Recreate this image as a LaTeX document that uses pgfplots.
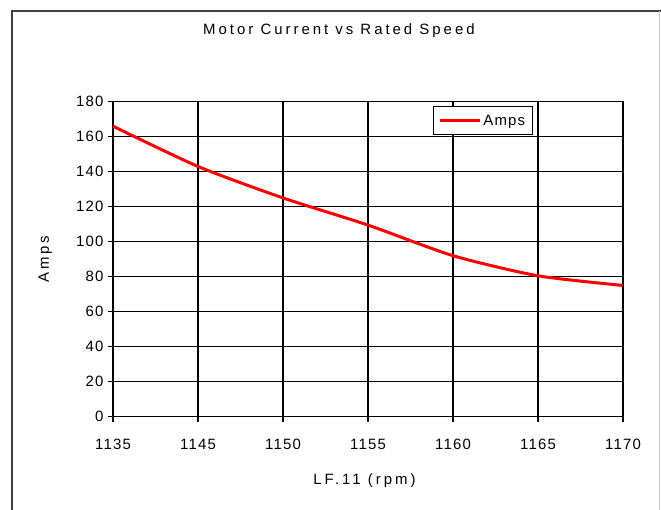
\documentclass[border=0pt]{standalone}
\usepackage{pgfplots}
\pgfplotsset{compat=1.18}
\usepackage{fontspec}
\setmainfont{Liberation Sans}
\newfontfamily\spaced[LetterSpace=20]{Liberation Sans}
\newfontfamily\lspaced[LetterSpace=8]{Liberation Sans}

\begin{document}
\begin{tikzpicture}[x=1bp,y=1bp]
\useasboundingbox (0,0) rectangle (661,510);
\draw[line width=2bp, black!75] (12,0) -- (12,499) -- (661,499);
\draw[line width=1bp, black!20] (659.5,0) -- (659.5,499);
\begin{axis}[
    at={(113bp,93.3bp)}, anchor=south west,
    width=510bp, height=315bp, scale only axis,
    xmin=0, xmax=6, ymin=0, ymax=180,
    xtick={0,...,6},
    xticklabels={1135,1145,1150,1155,1160,1165,1170},
    ytick={0,20,...,180},
    xtick pos=left, ytick pos=left,
    tick align=outside, major tick length=5bp,
    grid=major,
    major grid style={black, line width=1.3bp},
    axis line style={black, line width=1.3bp},
    tick style={black, line width=1.3bp},
    /pgf/number format/assume math mode=true,
    ticklabel style={font=\lspaced\fontsize{15}{15}\selectfont},
    xticklabel style={yshift=-14bp},
    yticklabel style={xshift=-1bp},
    title={\spaced\fontsize{15}{15}\selectfont Motor Current vs Rated Speed},
    title style={at={(axis description cs:0.443,1.205)}, anchor=center},
    xlabel={\spaced\fontsize{15}{15}\selectfont LF.11 (rpm)},
    xlabel style={at={(axis description cs:0.493,-0.204)}, anchor=center},
    ylabel={\spaced\fontsize{15}{15}\selectfont Amps},
    ylabel style={at={(axis description cs:-0.133,0.5)}, anchor=center},
    legend style={at={(axis description cs:0.627,0.986)}, anchor=north west,
        draw=black, line width=1.3bp, fill=white, inner xsep=5bp, inner ysep=6bp,
        font=\lspaced\fontsize{15}{15}\selectfont},
    legend image code/.code={\draw[#1, line width=3bp] (0bp,0bp) -- (40bp,0bp);},
]
\addplot[red, line width=3bp, smooth, tension=0.4] coordinates {
    (0, 166)
    (1, 143)
    (2, 125)
    (3, 109.5)
    (4, 92)
    (5, 80.5)
    (6, 75)
};
\addlegendentry{Amps}
\end{axis}
\end{tikzpicture}
\end{document}
